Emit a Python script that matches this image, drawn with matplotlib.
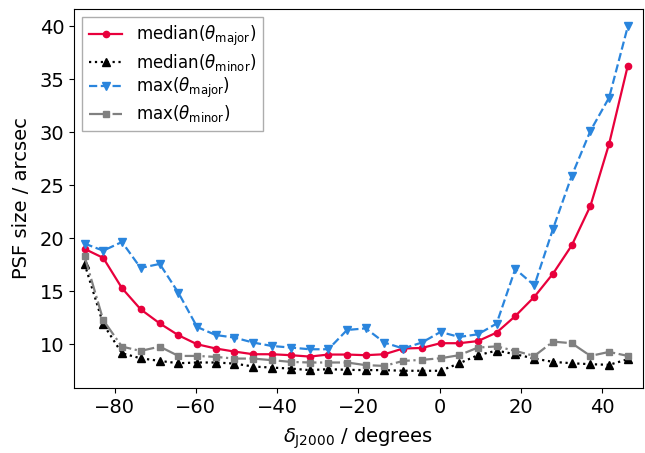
import matplotlib
matplotlib.use("Agg")
import matplotlib.pyplot as plt

dec = [-87.4, -82.8, -78.2, -73.6, -68.9, -64.3, -59.7, -55.1, -50.5, -45.9,
       -41.3, -36.7, -32.0, -27.4, -22.8, -18.2, -13.6, -9.0, -4.4, 0.2,
       4.8, 9.4, 14.0, 18.6, 23.3, 27.9, 32.5, 37.1, 41.7, 46.3]

median_major = [19.0, 18.15, 15.3, 13.3, 11.97, 10.85, 10.0, 9.6, 9.31, 9.06,
                9.06, 8.97, 8.84, 9.03, 9.03, 8.97, 9.06, 9.6, 9.65, 10.1,
                10.1, 10.3, 11.1, 12.66, 14.48, 16.67, 19.33, 23.06, 28.92, 36.3]

median_minor = [17.6, 11.9, 9.15, 8.68, 8.43, 8.21, 8.28, 8.28, 8.18, 7.9,
                7.8, 7.71, 7.56, 7.65, 7.59, 7.56, 7.56, 7.5, 7.5, 7.5,
                8.2, 8.97, 9.4, 9.06, 8.65, 8.34, 8.21, 8.12, 8.06, 8.59]

max_major = [19.5, 18.83, 19.65, 17.2, 17.58, 14.86, 11.63, 10.87, 10.63, 10.16,
             9.84, 9.69, 9.53, 9.53, 11.35, 11.5, 10.16, 9.6, 10.16, 11.16,
             10.69, 10.94, 11.95, 17.1, 15.55, 20.9, 25.9, 30.14, 33.28, 40.0]

max_minor = [18.3, 12.28, 9.78, 9.37, 9.78, 8.9, 8.9, 8.81, 8.65, 8.65,
             8.5, 8.34, 8.28, 8.28, 8.28, 8.03, 7.96, 8.43, 8.53, 8.68,
             8.97, 9.69, 9.8, 9.37, 8.9, 10.25, 10.1, 8.9, 9.28, 8.9]

fig = plt.figure(figsize=(6.45, 4.53), dpi=100)
ax = fig.add_axes([0.1147, 0.1435, 0.882, 0.8365])

ax.plot(dec, median_major, '-', color='#e8003c', marker='o', ms=4.5, lw=1.6,
        label=r'median($\theta_{\rm major}$)')
ax.plot(dec, median_minor, ':', color='black', marker='^', ms=5.5, lw=1.6,
        label=r'median($\theta_{\rm minor}$)')
ax.plot(dec, max_major, '--', color='#2a85dd', marker='v', ms=5.5, lw=1.6,
        label=r'max($\theta_{\rm major}$)')
ax.plot(dec, max_minor, '-.', color='#808080', marker='s', ms=5, lw=1.6,
        label=r'max($\theta_{\rm minor}$)')

ax.set_xlim(-90, 50)
ax.set_xticks([-80, -60, -40, -20, 0, 20, 40])
ax.set_yticks([10, 15, 20, 25, 30, 35, 40])
ax.tick_params(labelsize=14)
ax.set_xlabel(r'$\delta_{\rm J2000}$ / degrees', fontsize=14, labelpad=6)
ax.set_ylabel('PSF size / arcsec', fontsize=14, labelpad=6)
ax.legend(loc='upper left', fontsize=12, fancybox=False, edgecolor='#999999',
          labelspacing=0.2)

fig.savefig('out.png', dpi=100)
